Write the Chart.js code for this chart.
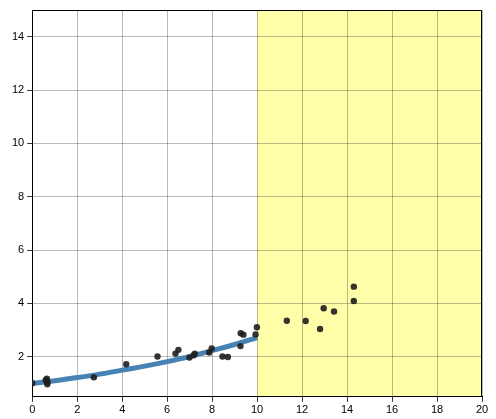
<!DOCTYPE html>
<html>
<head>
<meta charset="utf-8">
<script src="https://cdn.jsdelivr.net/npm/chart.js@4.4.0/dist/chart.umd.min.js"></script>
<style>
  html, body { margin: 0; padding: 0; background: #fff; }
  #wrap { width: 496px; height: 419px; }
</style>
</head>
<body>
<div id="wrap"><canvas id="chart"></canvas></div>
<script>
// scatter observations
const obsX = [0, 0.6, 0.65, 0.68, 0.67, 2.74, 4.18, 5.57, 6.37, 6.5, 6.99, 7.18, 7.23, 7.87, 7.98, 8.46, 8.7, 9.26, 9.27, 9.39, 9.93, 9.99,
              11.32, 12.16, 12.8, 12.96, 13.42, 14.3, 14.3];
const obsY = [1.01, 1.12, 1.18, 1.05, 0.97, 1.23, 1.72, 2.01, 2.12, 2.26, 1.97, 2.06, 2.12, 2.16, 2.31, 2.01, 1.99, 2.4, 2.88, 2.83, 2.84, 3.11,
              3.35, 3.34, 3.04, 3.82, 3.70, 4.63, 4.09];

// fitted curve
const fitX = [0, 1, 2, 3, 4, 5, 6, 7, 8, 9, 10];
const fitY = [1.0, 1.1, 1.22, 1.35, 1.5, 1.65, 1.82, 2.01, 2.23, 2.46, 2.72];

// shaded region (prediction zone)
const shadeFrom = 10;
const shadeTo = 20;

const xTicks = [0, 2, 4, 6, 8, 10, 12, 14, 16, 18, 20];
const yTicks = [2, 4, 6, 8, 10, 12, 14];

// yellow band behind the grid + frame on top/right
const bandPlugin = {
  id: 'band',
  beforeDraw(chart) {
    const { ctx, chartArea, scales } = chart;
    const x0 = scales.x.getPixelForValue(shadeFrom);
    const x1 = scales.x.getPixelForValue(shadeTo);
    ctx.save();
    ctx.fillStyle = '#ffffaa';
    ctx.fillRect(x0, chartArea.top, x1 - x0, chartArea.bottom - chartArea.top);
    ctx.restore();
  },
  afterDraw(chart) {
    const { ctx, chartArea } = chart;
    ctx.save();
    ctx.strokeStyle = '#000';
    ctx.lineWidth = 1;
    ctx.beginPath();
    ctx.moveTo(chartArea.left, chartArea.top + 0.5);
    ctx.lineTo(chartArea.right - 0.5, chartArea.top + 0.5);
    ctx.lineTo(chartArea.right - 0.5, chartArea.bottom);
    ctx.stroke();
    ctx.restore();
  }
};

new Chart(document.getElementById('chart').getContext('2d'), {
  type: 'scatter',
  data: {
    datasets: [
      {
        label: 'points',
        data: obsX.map((x, i) => ({ x: x, y: obsY[i] })),
        backgroundColor: 'rgba(30,30,30,0.9)',
        borderWidth: 0,
        pointRadius: 3.2,
        order: 1
      },
      {
        label: 'fit',
        type: 'line',
        data: fitX.map((x, i) => ({ x: x, y: fitY[i] })),
        borderColor: '#4682b4',
        borderWidth: 5,
        pointRadius: 0,
        tension: 0.4,
        fill: false,
        order: 2
      }
    ]
  },
  options: {
    responsive: true,
    maintainAspectRatio: false,
    animation: false,
    layout: { padding: { top: 10, right: 14, left: 9, bottom: 0 } },
    plugins: {
      legend: { display: false },
      tooltip: { enabled: false }
    },
    scales: {
      x: {
        type: 'linear',
        min: 0,
        max: 20,
        afterBuildTicks: axis => { axis.ticks = xTicks.map(v => ({ value: v })); },
        ticks: { color: '#000', font: { family: 'Liberation Sans', size: 11 }, padding: 2, maxRotation: 0 },
        grid: { color: 'rgba(0,0,0,0.27)', tickColor: '#333', tickLength: 5 },
        border: { display: true, color: '#000', width: 1 }
      },
      y: {
        type: 'linear',
        min: 0.5,
        max: 15,
        afterBuildTicks: axis => { axis.ticks = yTicks.map(v => ({ value: v })); },
        ticks: { color: '#000', font: { family: 'Liberation Sans', size: 11 }, padding: 3 },
        grid: { color: 'rgba(0,0,0,0.27)', tickColor: '#333', tickLength: 5 },
        border: { display: true, color: '#000', width: 1 }
      }
    }
  },
  plugins: [bandPlugin]
});
</script>
</body>
</html>
